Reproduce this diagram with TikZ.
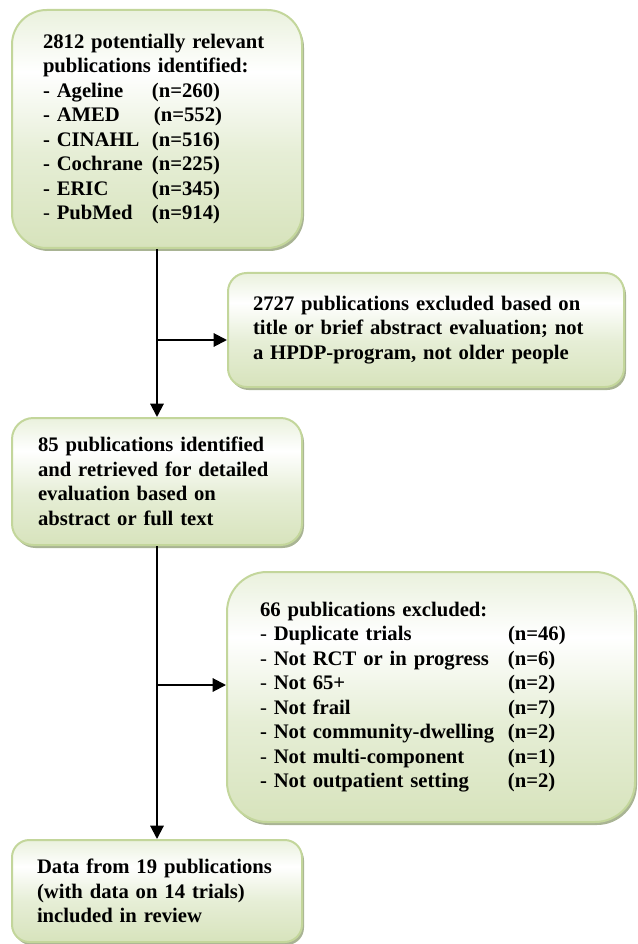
\documentclass[tikz,border=0pt]{standalone}
\usepackage{fontspec}
\setmainfont{Liberation Serif}
\usetikzlibrary{arrows.meta,shadows}
\hyphenpenalty=10000
\exhyphenpenalty=10000
\definecolor{bborder}{HTML}{C3D69B}
\definecolor{bbot}{HTML}{D7E3BC}
\definecolor{bmid}{HTML}{E6EED6}
\definecolor{btop}{HTML}{EAF1DD}
\definecolor{bshadow}{HTML}{A9B494}
\pgfdeclareverticalshading{boxshade}{100bp}{color(0bp)=(bbot); color(25bp)=(bbot); color(45bp)=(bmid); color(62bp)=(white); color(75bp)=(btop); color(100bp)=(btop)}
\newcommand{\nd}{\textmd{-}}
\begin{document}
\begin{tikzpicture}[x=0.75pt,y=-0.75pt,
  box/.style={draw=bborder, line width=1.5pt, shading=boxshade,
    drop shadow={shadow xshift=1.5pt, shadow yshift=-2.25pt, fill=bshadow, opacity=1},
    align=left, inner ysep=0pt,
    font=\fontsize{15.5}{18.4}\selectfont\bfseries},
  conn/.style={line width=1.5pt, black},
  arr/.style={conn, -{Triangle[length=10pt,width=10pt]}}]
\useasboundingbox (0,0) rectangle (637,944);

\node[box, rounded corners=26pt, minimum width=217.5pt, minimum height=178.5pt,
  inner xsep=23.25pt, text width=171pt] (box1) at (157,129)
  {2812 potentially relevant\\ publications identified:\\
   \makebox[81.75pt][l]{- Ageline}(n=260)\\
   \makebox[81.75pt][l]{- AMED}\hspace{1.5pt}(n=552)\\
   \makebox[81.75pt][l]{- CINAHL}(n=516)\\
   \makebox[81.75pt][l]{- Cochrane}(n=225)\\
   \makebox[81.75pt][l]{- ERIC}(n=345)\\
   \makebox[81.75pt][l]{\nd{} PubMed}(n=914)};

\node[box, rounded corners=14pt, minimum width=297pt, minimum height=85.5pt,
  inner xsep=18.75pt, text width=259.5pt] (box2) at (426,330)
  {2727 publications excluded based on\\ title or brief abstract evaluation; not\\ a HPDP-program, not older people};

\node[box, rounded corners=16pt, minimum width=217.5pt, minimum height=95.25pt,
  inner xsep=19.5pt, text width=178.5pt] (box3) at (157,481.5)
  {85 publications identified\\ and retrieved for detailed\\ evaluation based on\\ abstract or full text};

\node[box, rounded corners=30pt, minimum width=306pt, minimum height=187.5pt,
  inner xsep=24.75pt, text width=256.5pt] (box4) at (431,697)
  {66 publications excluded:\\
   \makebox[186pt][l]{\nd{} Duplicate trials}(n=46)\\
   \makebox[186pt][l]{\nd{} Not RCT or in progress}(n=6)\\
   \makebox[186pt][l]{\nd{} Not 65+}(n=2)\\
   \makebox[186pt][l]{\nd{} Not frail}(n=7)\\
   \makebox[186pt][l]{- Not community-dwelling}(n=2)\\
   \makebox[186pt][l]{\nd{} Not multi-component}(n=1)\\
   \makebox[186pt][l]{- Not outpatient setting}(n=2)};

\node[box, rounded corners=13pt, minimum width=217.5pt, minimum height=76.5pt,
  inner xsep=18.75pt, text width=180pt] (box5) at (157,891)
  {Data from 19 publications\\ (with data on 14 trials)\\ included in review};

\coordinate (j1) at (157,340);
\coordinate (j2) at (157,685);

\draw[arr] (box1.south) -- (box3.north);
\draw[arr] (j1) -- (j1 -| box2.west);
\draw[arr] (box3.south) -- (box5.north);
\draw[arr] (j2) -- (j2 -| box4.west);
\end{tikzpicture}
\end{document}
